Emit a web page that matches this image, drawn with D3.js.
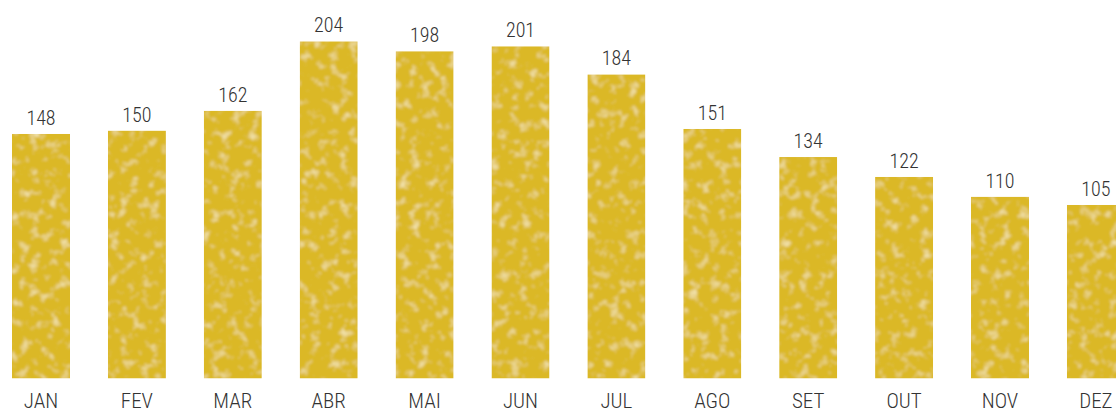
<!DOCTYPE html>
<html>
<head>
<meta charset="utf-8">
<script src="https://cdn.jsdelivr.net/npm/d3@7"></script>
<style>
  html, body { margin: 0; padding: 0; background: #fff; }
  svg { display: block; }
</style>
</head>
<body>
<div id="chart"></div>
<script>
// Monthly values
const months = ['JAN', 'FEV', 'MAR', 'ABR', 'MAI', 'JUN', 'JUL', 'AGO', 'SET', 'OUT', 'NOV', 'DEZ']
const values = [148, 150, 162, 204, 198, 201, 184, 151, 134, 122, 110, 105]

const width = 1116
const height = 412
const baseY = 378.5

const svg = d3.select('#chart')
  .append('svg')
  .attr('width', width)
  .attr('height', height)

// Soft mottled gold texture for the bars
const defs = svg.append('defs')
const filter = defs.append('filter')
  .attr('id', 'speckle')
  .attr('x', 0).attr('y', 0).attr('width', 1).attr('height', 1)
filter.append('feTurbulence')
  .attr('type', 'fractalNoise')
  .attr('baseFrequency', 0.1)
  .attr('numOctaves', 3)
  .attr('seed', 7)
  .attr('result', 'noise')
filter.append('feColorMatrix')
  .attr('in', 'noise')
  .attr('type', 'matrix')
  .attr('values', '0 0 0 0 0.97  0 0 0 0 0.9  0 0 0 0 0.6  2.0 0 0 0 -1.1')
  .attr('result', 'spots')
filter.append('feGaussianBlur')
  .attr('in', 'spots')
  .attr('stdDeviation', 1)
  .attr('result', 'softSpots')
filter.append('feComposite')
  .attr('in', 'softSpots')
  .attr('in2', 'SourceGraphic')
  .attr('operator', 'atop')
  .attr('result', 'lit')
filter.append('feComposite')
  .attr('in', 'lit')
  .attr('in2', 'SourceGraphic')
  .attr('operator', 'in')

const x = d3.scaleBand()
  .domain(months)
  .range([12, 12 + 11 * 95.9 + 58])
  .paddingInner(0.395)
  .paddingOuter(0)

const y = d3.scaleLinear()
  .domain([0, 229])
  .range([baseY, 0])

const bars = svg.append('g')
bars.selectAll('rect')
  .data(values)
  .enter()
  .append('rect')
  .attr('x', (d, i) => x(months[i]))
  .attr('y', d => y(d))
  .attr('width', x.bandwidth())
  .attr('height', d => baseY - y(d))
  .attr('fill', '#dbb826')
  .attr('filter', 'url(#speckle)')

const font = '"Liberation Sans Narrow", "Roboto Condensed", Roboto, sans-serif'

// value labels
svg.append('g')
  .selectAll('text')
  .data(values)
  .enter()
  .append('text')
  .attr('x', (d, i) => x(months[i]) + x.bandwidth() / 2)
  .attr('y', d => y(d) - 9)
  .attr('text-anchor', 'middle')
  .style('font-family', font)
  .style('font-weight', 300)
  .style('font-size', '20px')
  .style('fill', '#333')
  .text(d => d)

// month labels
svg.append('g')
  .selectAll('text')
  .data(months)
  .enter()
  .append('text')
  .attr('x', d => x(d) + x.bandwidth() / 2)
  .attr('y', 408)
  .attr('text-anchor', 'middle')
  .style('font-family', font)
  .style('font-weight', 300)
  .style('font-size', '21px')
  .style('fill', '#333')
  .text(d => d)
</script>
</body>
</html>
